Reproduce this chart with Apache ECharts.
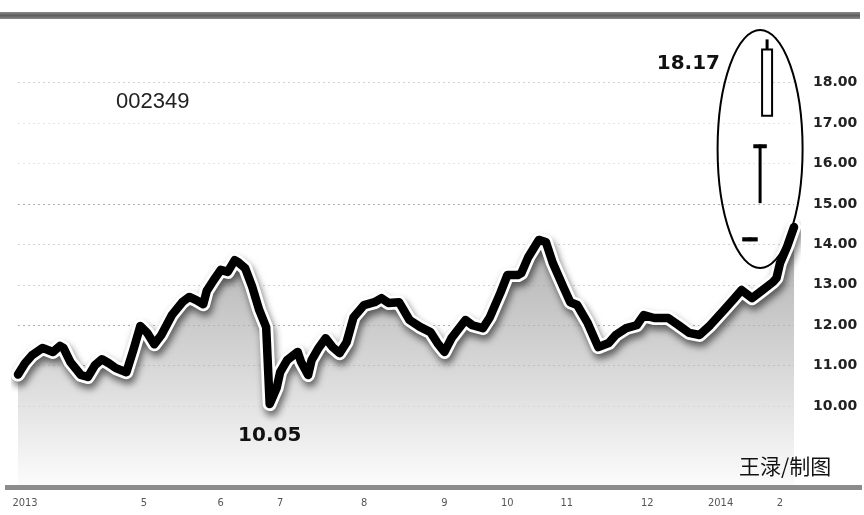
<!DOCTYPE html>
<html>
<head>
<meta charset="utf-8">
<script src="https://cdn.jsdelivr.net/npm/echarts@6/dist/echarts.min.js"></script>
<style>
html,body{margin:0;padding:0;background:#fff;}
#chart{width:864px;height:515px;}
</style>
</head>
<body>
<div id="chart"></div>
<script>
// trading-day index (x) and closing price (y)
const priceDay = [0,2,4,7,10,12,13,15,18,20,22,24,26,28,31,33,35,37,39,41,44,47,49,51,53,54,56,58,60,62,63,65,67,69,71,72,73,74,75,77,80,81,83,84,86,88,90,92,94,96,99,102,104,106,109,112,115,118,120,122,124,128,130,133,135,138,140,143,144,146,149,151,153,156,158,160,163,166,169,171,174,177,179,182,186,189,192,195,198,202,205,207,210,213,216,217,218,220,222];
const priceValue = [10.78,11.06,11.26,11.44,11.34,11.49,11.44,11.09,10.77,10.72,11.01,11.16,11.06,10.94,10.84,11.39,11.98,11.81,11.53,11.76,12.25,12.57,12.70,12.62,12.52,12.85,13.12,13.37,13.32,13.61,13.56,13.41,12.95,12.38,11.95,10.05,10.25,10.45,10.84,11.14,11.34,11.09,10.77,11.14,11.44,11.68,11.46,11.31,11.58,12.20,12.50,12.57,12.67,12.55,12.57,12.13,11.96,11.83,11.56,11.34,11.68,12.13,12.00,11.93,12.20,12.80,13.24,13.24,13.29,13.69,14.11,14.06,13.54,12.95,12.57,12.50,12.05,11.46,11.56,11.76,11.93,12.00,12.25,12.18,12.18,12.00,11.81,11.76,12.00,12.38,12.67,12.87,12.67,12.87,13.07,13.17,13.54,13.94,14.43];

// x-axis tick labels (trading-day index → text)
const tickDays = [2,36,58,75,99,122,140,157,180,201,218];
const tickTexts = ['2013','5','6','7','8','9','10','11','12','2014','2'];

// inset candlesticks (schematic, inside the ellipse)
const candleDay = [209.4,212.3,214.3];
const candleOpen = [14.17,16.47,17.18];
const candleClose = [14.08,16.40,18.82];
const candleLow = [14.08,15.02,17.18];
const candleHigh = [14.17,16.47,19.07];

// ellipse annotation centre (day, price)
const ellipseCenter = [[212.3,16.36]];

const lineData = priceDay.map((d,i)=>[d,priceValue[i]]);
const candleData = candleDay.map((d,i)=>[d,candleOpen[i],candleClose[i],candleLow[i],candleHigh[i]]);
const candleWidths = [15,13,10];

const chart = echarts.init(document.getElementById('chart'));
const g1 = '#b0b0b0', g2 = '#d2d2d2', g3 = '#e6e6e6', none = 'rgba(0,0,0,0)';
chart.setOption({
  backgroundColor:'#fff',
  animation:false,
  grid:{left:18,right:70,top:22,bottom:28},
  xAxis:[{
    type:'value',min:0,max:222,
    axisLine:{show:false},axisTick:{show:false},splitLine:{show:false},
    axisLabel:{
      customValues:tickDays,margin:11,fontSize:11,color:'#555',
      fontFamily:"'Liberation Sans Narrow','DejaVu Sans Condensed',sans-serif",
      formatter:v=>{const i=tickDays.indexOf(v);return i>=0?tickTexts[i]:'';}
    }
  }],
  yAxis:[{
    type:'value',position:'right',min:8,max:19.5,interval:1,
    axisLine:{show:false},axisTick:{show:false},
    axisLabel:{margin:19,fontSize:14,fontWeight:'bold',color:'#222',fontFamily:"'DejaVu Sans',sans-serif",
      formatter:v=>(v>=10&&v<=18)?v.toFixed(2):''},
    splitLine:{show:true,lineStyle:{type:[2,3],width:1,
      color:[none,none,g2,g1,g1,g2,g2,g1,g3,g3,g2,none]}}
  }],
  series:[
    {
      type:'line',data:lineData,symbol:'none',z:2,
      lineStyle:{color:'#fff',width:14,join:'round',cap:'round',
        shadowColor:'rgba(0,0,0,0.55)',shadowBlur:7,shadowOffsetY:5,shadowOffsetX:2},
      areaStyle:{origin:'start',color:new echarts.graphic.LinearGradient(0,0,0,1,[
        {offset:0,color:'#8e8e8e'},{offset:0.5,color:'#c2c2c2'},{offset:1,color:'#fbfbfb'}])}
    },
    {
      type:'line',data:lineData,symbol:'none',z:3,
      lineStyle:{color:'#000',width:8.5,join:'round',cap:'round'},
      markPoint:{
        symbol:'circle',symbolSize:0,
        data:[{type:'min'}],
        label:{show:true,position:'inside',offset:[0,32],formatter:p=>p.value.toFixed(2),
          fontSize:20,fontWeight:'bold',color:'#111',fontFamily:"'DejaVu Sans',sans-serif"}
      }
    },
    {
      type:'custom',z:5,data:candleData,
      renderItem:(params,api)=>{
        const i=params.dataIndex;
        const d=api.value(0),o=api.value(1),c=api.value(2),lo=api.value(3),hi=api.value(4);
        const pO=api.coord([d,o]),pC=api.coord([d,c]),pL=api.coord([d,lo]),pH=api.coord([d,hi]);
        const w=candleWidths[i];
        const top=Math.min(pO[1],pC[1]),h=Math.abs(pO[1]-pC[1]);
        const rising=c>o;
        return {type:'group',children:[
          {type:'line',shape:{x1:pH[0],y1:pH[1],x2:pL[0],y2:pL[1]},style:{stroke:'#000',lineWidth:3}},
          {type:'rect',shape:{x:pO[0]-w/2,y:top,width:w,height:Math.max(h,3.5)},
            style:{fill:rising?'#fff':'#000',stroke:'#000',lineWidth:rising?2:0.5}}
        ]};
      }
    },
    {
      type:'custom',z:4,data:ellipseCenter,
      renderItem:(params,api)=>{
        const p=api.coord([api.value(0),api.value(1)]);
        const rx=42.5,ry=119;
        const path='M'+(p[0]-rx)+' '+p[1]+' A'+rx+' '+ry+' 0 1 0 '+(p[0]+rx)+' '+p[1]+
          ' A'+rx+' '+ry+' 0 1 0 '+(p[0]-rx)+' '+p[1]+' Z';
        return {type:'path',shape:{pathData:path},style:{fill:'none',stroke:'#000',lineWidth:2}};
      }
    }
  ],
  graphic:[
    {type:'rect',left:0,top:12,z:10,shape:{width:860,height:7},
      style:{fill:new echarts.graphic.LinearGradient(0,0,0,1,[{offset:0,color:'#8a8a8a'},{offset:0.5,color:'#5e5e5e'},{offset:1,color:'#8a8a8a'}])}},
    {type:'rect',left:5,top:485,z:10,shape:{width:857,height:5},
      style:{fill:'#8c8c8c'}},
    {type:'text',left:116,top:91,z:10,style:{text:'002349',fontSize:22,fill:'#222',fontFamily:"'Liberation Sans',Arial,sans-serif"}},
    {type:'text',right:144,top:54,z:10,style:{text:'18.17',fontSize:20,fontWeight:'bold',fill:'#111',fontFamily:"'DejaVu Sans',sans-serif"}},
    {type:'text',left:739,top:456,z:10,style:{text:'王渌/制图',fontSize:21,fill:'#111',fontFamily:"'Noto Sans CJK SC',sans-serif"}}
  ]
});
</script>
</body>
</html>
